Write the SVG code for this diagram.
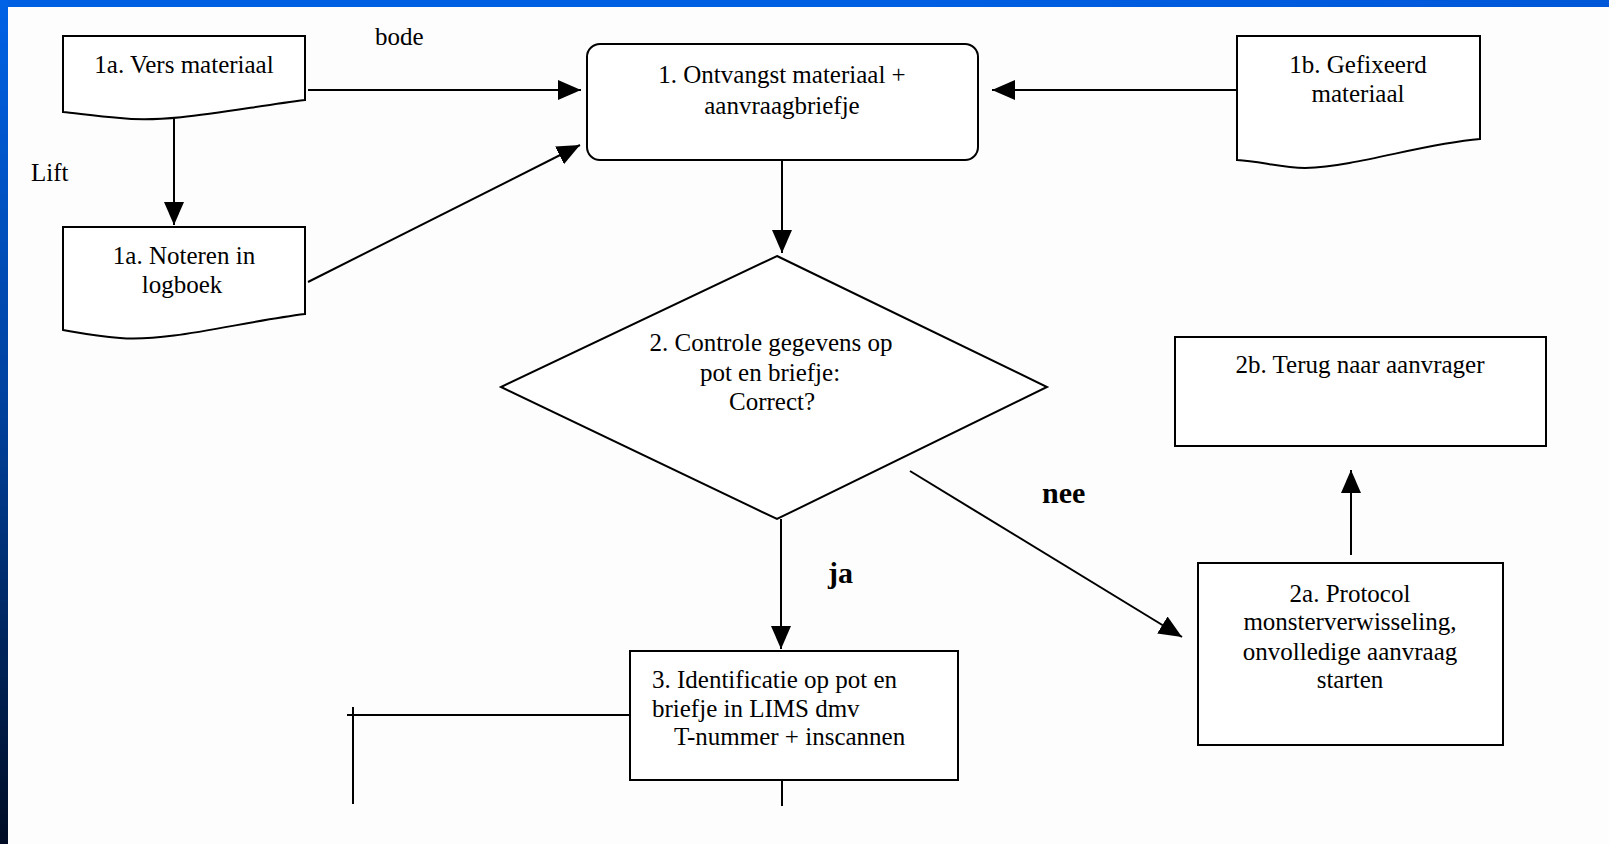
<svg xmlns="http://www.w3.org/2000/svg" width="1609" height="844" viewBox="0 0 1609 844">
<defs>
<linearGradient id="leftbar" x1="0" y1="0" x2="0" y2="1">
<stop offset="0" stop-color="#0062e6"/>
<stop offset="0.5" stop-color="#00409a"/>
<stop offset="1" stop-color="#000c24"/>
</linearGradient>
<linearGradient id="topbar" x1="0" y1="0" x2="1" y2="0">
<stop offset="0" stop-color="#0060e4"/>
<stop offset="0.5" stop-color="#0060e4"/>
<stop offset="1" stop-color="#0058d8"/>
</linearGradient>
<marker id="ah" markerUnits="userSpaceOnUse" markerWidth="24" markerHeight="22" refX="23" refY="10" orient="auto">
<path d="M0,0 L23,10 L0,20 Z" fill="#000"/>
</marker>
</defs>
<style>
.shape{fill:#fff;stroke:#000;stroke-width:2}
.t{font-family:"Liberation Serif","Times New Roman",serif;font-size:25px;fill:#000}
.c{text-anchor:middle}
.b{font-weight:bold;font-size:30px}
.conn line{stroke:#000;stroke-width:2}
</style>
<rect x="0" y="0" width="1609" height="844" fill="#fdfdfd"/>
<rect x="0" y="0" width="1609" height="7" fill="url(#topbar)"/>
<rect x="0" y="0" width="8" height="844" fill="url(#leftbar)"/>

<g id="n1a-vers">
<path class="shape" d="M63,36 H305 V100 C240,108 170,124 120,118 C95,116 75,113 63,112 Z"/>
<text class="t c" x="184" y="73">1a. Vers materiaal</text>
</g>
<g id="n1a-noteren">
<path class="shape" d="M63,227 H305 V314 C240,322 170,342 120,338 C95,336 75,332 63,330 Z"/>
<text class="t c" x="184" y="264">1a. Noteren in</text>
<text class="t c" x="182" y="293">logboek</text>
</g>
<g id="n1-ontvangst">
<rect class="shape" x="587" y="44" width="391" height="116" rx="13" ry="13"/>
<text class="t c" x="782" y="83">1. Ontvangst materiaal +</text>
<text class="t c" x="782" y="114">aanvraagbriefje</text>
</g>
<g id="n1b-gefixeerd">
<path class="shape" d="M1237,36 H1480 V139 C1420,144 1360,166 1305,168 C1280,168 1260,161 1237,160 Z"/>
<text class="t c" x="1358" y="73">1b. Gefixeerd</text>
<text class="t c" x="1358" y="102">materiaal</text>
</g>
<g id="n2-controle">
<polygon class="shape" points="777,256 1047,387 777,519 501,387"/>
<text class="t c" x="771" y="351">2. Controle gegevens op</text>
<text class="t c" x="770" y="381">pot en briefje:</text>
<text class="t c" x="772" y="410">Correct?</text>
</g>
<g id="n2b-terug">
<rect class="shape" x="1175" y="337" width="371" height="109"/>
<text class="t c" x="1360" y="373">2b. Terug naar aanvrager</text>
</g>
<g id="n2a-protocol">
<rect class="shape" x="1198" y="563" width="305" height="182"/>
<text class="t c" x="1350" y="602">2a. Protocol</text>
<text class="t c" x="1350" y="630">monsterverwisseling,</text>
<text class="t c" x="1350" y="660">onvolledige aanvraag</text>
<text class="t c" x="1350" y="688">starten</text>
</g>
<g id="n3-identificatie">
<rect class="shape" x="630" y="651" width="328" height="129"/>
<text class="t" x="652" y="688">3. Identificatie op pot en</text>
<text class="t" x="652" y="717">briefje in LIMS dmv</text>
<text class="t" x="674" y="745">T-nummer + inscannen</text>
</g>

<g id="connectors" class="conn">
<line x1="308" y1="90" x2="581" y2="90" marker-end="url(#ah)"/>
<line x1="174" y1="117" x2="174" y2="225" marker-end="url(#ah)"/>
<line x1="308" y1="282" x2="580" y2="145" marker-end="url(#ah)"/>
<line x1="1237" y1="90" x2="992" y2="90" marker-end="url(#ah)"/>
<line x1="782" y1="160" x2="782" y2="253" marker-end="url(#ah)"/>
<line x1="781" y1="519" x2="781" y2="649" marker-end="url(#ah)"/>
<line x1="910" y1="471" x2="1182" y2="637" marker-end="url(#ah)"/>
<line x1="1351" y1="555" x2="1351" y2="470" marker-end="url(#ah)"/>
<line x1="347" y1="715" x2="630" y2="715"/>
<line x1="353" y1="707" x2="353" y2="804"/>
<line x1="782" y1="780" x2="782" y2="806"/>
</g>

<g id="labels">
<text class="t" x="375" y="45">bode</text>
<text class="t" x="31" y="181">Lift</text>
<text class="t b" x="1042" y="503">nee</text>
<text class="t b" x="828" y="583">ja</text>
</g>
</svg>
